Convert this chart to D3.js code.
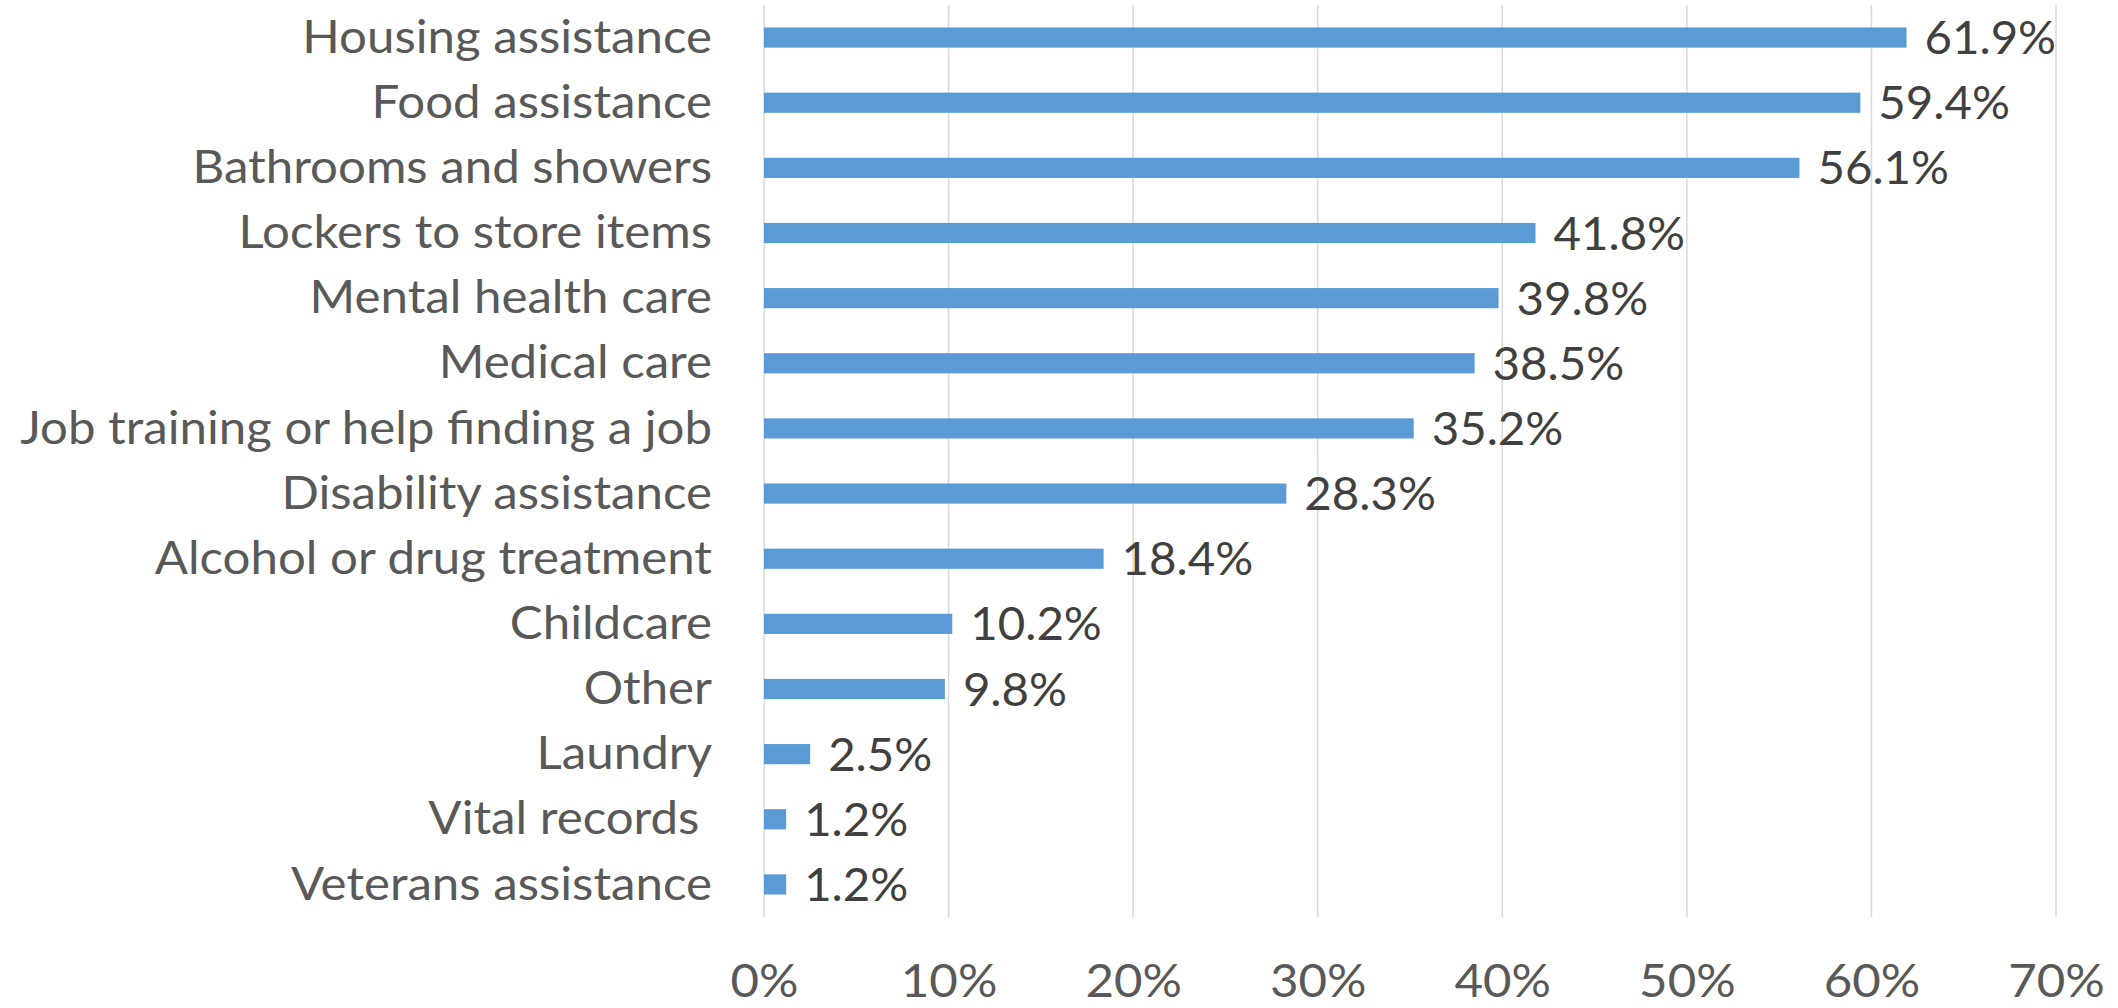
<!DOCTYPE html>
<html>
<head>
<meta charset="utf-8">
<script src="https://cdn.jsdelivr.net/npm/d3@7"></script>
<style>
  html, body { margin: 0; padding: 0; background: #ffffff; }
  svg { display: block; }
  text { font-family: Lato, "Open Sans", sans-serif; white-space: pre; }
</style>
</head>
<body>
<svg id="chart" width="2118" height="1008"></svg>
<script>
// Services requested, share of respondents (%)
const categories = [
  "Housing assistance",
  "Food assistance",
  "Bathrooms and showers",
  "Lockers to store items",
  "Mental health care",
  "Medical care",
  "Job training or help finding a job",
  "Disability assistance",
  "Alcohol or drug treatment",
  "Childcare",
  "Other",
  "Laundry",
  "Vital records ",
  "Veterans assistance"
];
const values = [61.9, 59.4, 56.1, 41.8, 39.8, 38.5, 35.2, 28.3, 18.4, 10.2, 9.8, 2.5, 1.2, 1.2];
const xTicks = [0, 10, 20, 30, 40, 50, 60, 70];

const plot = { left: 764, right: 2056, top: 5, bottom: 917 };
const fontSize = 46;
const stretch = 1.07;       // widen glyphs slightly for a rounder, wider look
const valueStretch = 1.03;  // data labels are a touch narrower

const svg = d3.select("#chart");

const x = d3.scaleLinear().domain([0, 70]).range([plot.left, plot.right]);
const y = d3.scaleBand()
  .domain(categories)
  .range([plot.top, plot.bottom])
  .paddingInner(0.69)
  .paddingOuter(0.345);

// vertical gridlines
svg.append("g")
  .selectAll("line")
  .data(xTicks)
  .join("line")
  .attr("x1", d => x(d)).attr("x2", d => x(d))
  .attr("y1", plot.top).attr("y2", plot.bottom)
  .attr("stroke", "#d9d9d9")
  .attr("stroke-width", 1.5);

// bottom axis labels
const xAxis = d3.axisBottom(x)
  .tickValues(xTicks)
  .tickFormat(d => d + "%")
  .tickSize(0)
  .tickPadding(0);
const gx = svg.append("g")
  .attr("transform", `translate(0, ${plot.bottom})`)
  .call(xAxis);
gx.select(".domain").remove();
gx.selectAll("text")
  .attr("y", null)
  .attr("dy", null)
  .attr("transform", `translate(0, 80) scale(${stretch}, 1)`)
  .attr("fill", "#595959")
  .attr("font-size", fontSize)
  .attr("font-family", "Lato, 'Open Sans', sans-serif");

// bars
svg.append("g")
  .selectAll("rect")
  .data(values)
  .join("rect")
  .attr("x", x(0))
  .attr("y", (d, i) => y(categories[i]))
  .attr("width", d => x(d) - x(0))
  .attr("height", y.bandwidth())
  .attr("fill", "#5b9bd5");

// category labels
const yAxis = d3.axisLeft(y).tickSize(0).tickPadding(0);
const gy = svg.append("g")
  .attr("transform", `translate(${plot.left}, 0)`)
  .call(yAxis);
gy.select(".domain").remove();
gy.selectAll("text")
  .attr("x", null)
  .attr("dy", null)
  .attr("transform", `translate(-52, ${0.33 * fontSize}) scale(${stretch}, 1)`)
  .attr("fill", "#595959")
  .attr("font-size", fontSize)
  .attr("font-family", "Lato, 'Open Sans', sans-serif");

// value labels
svg.append("g")
  .selectAll("text")
  .data(values)
  .join("text")
  .attr("transform", (d, i) =>
    `translate(${x(d) + 18}, ${y(categories[i]) + y.bandwidth() / 2 + 0.36 * fontSize}) scale(${valueStretch}, 1)`)
  .attr("fill", "#404040")
  .attr("font-size", fontSize)
  .text(d => d.toFixed(1) + "%");
</script>
</body>
</html>
